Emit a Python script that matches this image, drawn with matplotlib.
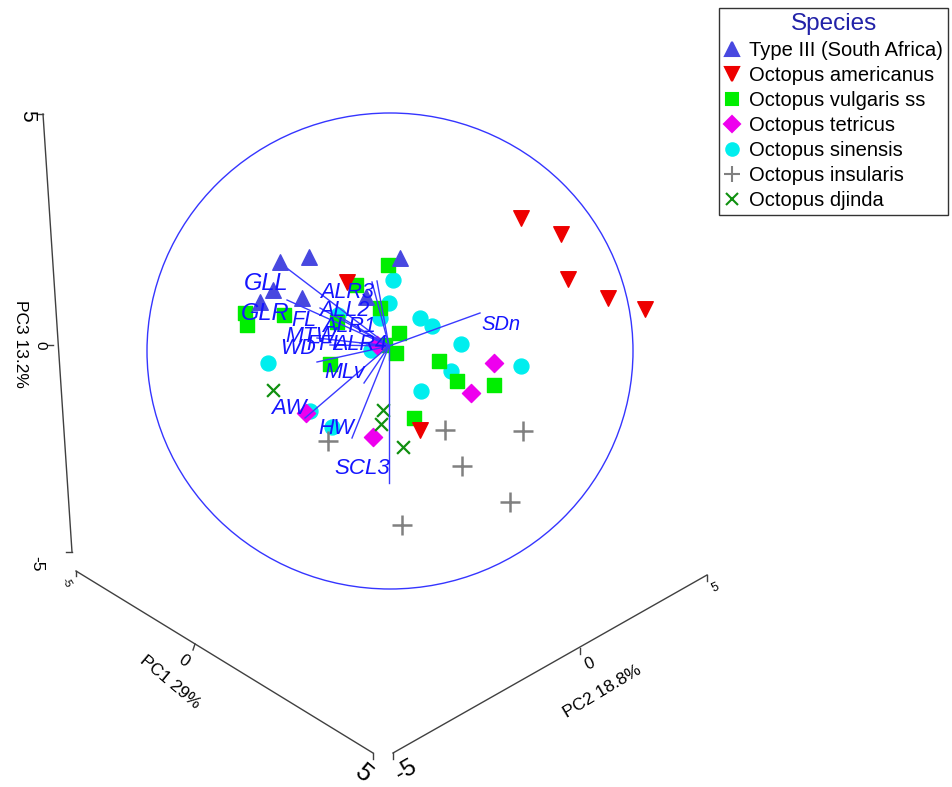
import numpy as np
import matplotlib
matplotlib.use("Agg")
import matplotlib.pyplot as plt
from matplotlib.patches import Ellipse
from matplotlib.lines import Line2D

plt.rcParams['font.family'] = ['Liberation Sans', 'DejaVu Sans']

# projected (screen) coordinates of the PCA scores
type3_x = [280, 309, 400, 273, 260, 302, 366]
type3_y = [262, 257, 258, 290, 302, 298, 297]
amer_x = [521, 561, 568, 608, 645, 420, 347]
amer_y = [218, 234, 279, 298, 309, 430, 282]
vulg_x = [388, 356, 245, 247, 284, 380, 337, 399, 396, 330, 439, 457, 494, 414, 385]
vulg_y = [265, 285, 313, 325, 315, 308, 322, 333, 353, 364, 361, 381, 385, 418, 345]
tetr_x = [494, 471, 306, 373, 377]
tetr_y = [363, 393, 413, 437, 345]
sin_x = [393, 389, 420, 432, 461, 451, 521, 421, 268, 310, 332, 371, 338, 380]
sin_y = [280, 303, 318, 326, 344, 371, 366, 391, 363, 411, 427, 350, 315, 318]
ins_x = [445, 523, 462, 510, 402, 328]
ins_y = [430, 431, 466, 502, 525, 441]
djin_x = [273, 383, 381, 403]
djin_y = [390, 410, 424, 447]

species = ['Type III (South Africa)', 'Octopus americanus', 'Octopus vulgaris ss',
           'Octopus tetricus', 'Octopus sinensis', 'Octopus insularis', 'Octopus djinda']

# variable vectors: name, tip, label position
vec_names = ['GLL', 'GLR', 'ALR3', 'ALL2', 'FL', 'ALR1', 'MTW', 'WD', 'FFL', 'ALR4',
             'MLv', 'AW', 'HW', 'SCL3', 'SDn']
vec_tip_x = [288, 287, 372, 377, 320, 342, 317, 317, 330, 360, 364, 305, 352, 389, 480]
vec_tip_y = [269, 300, 282, 281, 308, 318, 338, 362, 345, 343, 383, 418, 438, 483, 313]
lab_x = [266, 265, 347, 344, 304, 349, 311, 298, 325, 360, 345, 289, 336, 362, 501]
lab_y = [283, 314, 292, 310, 321, 327, 336, 349, 345, 344, 372, 408, 428, 468, 325]
lab_size = [17, 17, 15.5, 15.5, 15.5, 15.5, 15.5, 15.5, 15.5, 15.5, 15.5, 16, 15.5, 16, 14.5]
origin = (389, 346)

fig = plt.figure(figsize=(9.52, 7.87), dpi=100)
ax = fig.add_axes([0, 0, 1, 1])
ax.set_xlim(0, 952)
ax.set_ylim(787, 0)
ax.axis('off')

# circle
ax.add_patch(Ellipse((390, 351), 486, 476, fill=False, edgecolor='#3535ff', lw=1, zorder=1))

# points
ax.scatter(sin_x, sin_y, marker='o', s=115, color='#00eeee', zorder=2)
ax.scatter(vulg_x, vulg_y, marker='s', s=105, color='#00ee00', zorder=3)
ax.scatter(type3_x, type3_y, marker='^', s=125, color='#4848e0', zorder=3)
ax.scatter(amer_x, amer_y, marker='v', s=125, color='#ee0000', zorder=3)
ax.scatter(tetr_x, tetr_y, marker='D', s=85, color='#ee00ee', zorder=3)
ax.scatter(ins_x, ins_y, marker='+', s=190, color='#808080', linewidths=1.8, zorder=3)
ax.scatter(djin_x, djin_y, marker='x', s=85, color='#109010', linewidths=1.6, zorder=3)

# vectors
for tx, ty in zip(vec_tip_x, vec_tip_y):
    ax.plot([origin[0], tx], [origin[1], ty], color='#3a3aff', lw=1, zorder=4)
for n, x, y, fs in zip(vec_names, lab_x, lab_y, lab_size):
    ax.text(x, y, n, color='#1515ff', fontsize=fs, style='italic', ha='center', va='center',
            zorder=5)

# pseudo-3D axes
axcol = '#404040'
ax.plot([43, 72], [114, 552], color=axcol, lw=1)
ax.plot([37, 43], [114, 114], color=axcol, lw=1)
ax.plot([66, 72], [552, 552], color=axcol, lw=1)
ax.plot([47, 53], [345, 345], color=axcol, lw=1)
ax.text(28, 116, '5', fontsize=15, rotation=-90, ha='center', va='center')
ax.text(40, 345, '0', fontsize=11, rotation=-90, ha='center', va='center')
ax.text(37, 564, '-5', fontsize=12.5, rotation=-90, ha='center', va='center')
ax.text(20, 344, 'PC3 13.2%', fontsize=12.5, rotation=-90, ha='center', va='center')

ax.plot([76, 373], [571, 753], color=axcol, lw=1)
ax.plot([76, 76], [571, 576], color=axcol, lw=1)
ax.plot([373, 373], [753, 759], color=axcol, lw=1)
ax.plot([195, 193], [644, 650], color=axcol, lw=1)
ax.text(67, 583, '-5', fontsize=8, rotation=-60, ha='center', va='center')
ax.text(184, 661, '0', fontsize=12, rotation=-35, ha='center', va='center')
ax.text(170, 682, 'PC1 29%', fontsize=12.5, rotation=-40, ha='center', va='center')
ax.text(363, 773, '5', fontsize=18, rotation=-40, ha='center', va='center')

ax.plot([393, 707], [753, 575], color=axcol, lw=1)
ax.plot([393, 393], [753, 759], color=axcol, lw=1)
ax.plot([707, 707], [575, 581], color=axcol, lw=1)
ax.plot([580, 580], [648, 654], color=axcol, lw=1)
ax.text(406, 771, '-5', fontsize=17, rotation=30, ha='center', va='center')
ax.text(590, 664, '0', fontsize=12, rotation=25, ha='center', va='center')
ax.text(602, 692, 'PC2 18.8%', fontsize=12.5, rotation=31, ha='center', va='center')
ax.text(715, 588, '5', fontsize=9, rotation=25, ha='center', va='center')

# legend
markers = ['^', 'v', 's', 'D', 'o', '+', 'x']
colors = ['#4848e0', '#ee0000', '#00ee00', '#ee00ee', '#00eeee', '#808080', '#109010']
msizes = [10, 10, 9, 8.5, 9, 12, 8]
handles = [Line2D([], [], ls='none', marker=m, color=c, markersize=ms, markeredgewidth=1.5)
           for m, c, ms in zip(markers, colors, msizes)]
leg = fig.legend(handles, species, title='Species', loc='upper right',
                 bbox_to_anchor=(0.996, 0.99), frameon=True, fancybox=False,
                 edgecolor='black', fontsize=14.5, title_fontsize=17.5,
                 handlelength=0.8, handletextpad=0.45, labelspacing=0.3,
                 borderpad=0.25, borderaxespad=0)
leg.get_title().set_color('#2222a8')
leg.get_frame().set_linewidth(1)

fig.savefig('out.png', dpi=100)
